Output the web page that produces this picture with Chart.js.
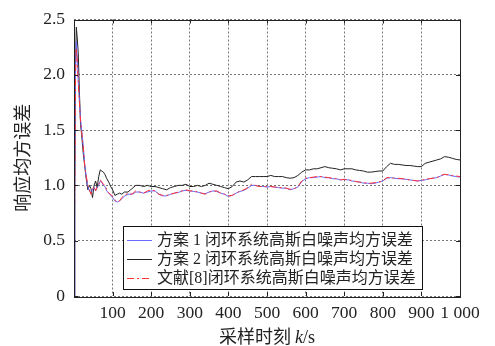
<!DOCTYPE html>
<html>
    <head>
        <title>响应均方误差</title>
        <meta charset="UTF-8">
        <script src="https://cdn.jsdelivr.net/npm/chart.js@4.4.0/dist/chart.umd.min.js"></script>
        <style>
            html, body { margin: 0; padding: 0; background: #fff; }
            #wrap { width: 495px; height: 346px; }
        </style>
    </head>
    <body>
        <div id='wrap'><canvas id='myChart' width='495' height='346'></canvas></div>
        <script>
            // sample times k (s)
            let sampleTimes = [0, 2, 4, 6, 8, 11, 14, 17, 20, 24, 28, 32, 36, 40, 44, 48, 52, 56, 60, 64, 68, 72, 76, 80, 85, 90, 95,
                100, 106, 112, 118, 124, 130,
                140, 150, 160, 170, 180, 190, 200, 210, 220, 230, 240, 250, 260, 270, 280, 290, 300,
                310, 320, 330, 340, 350, 360, 370, 380, 390, 400, 410, 420, 430, 440, 450, 460, 470, 480, 490, 500,
                510, 520, 530, 540, 550, 560, 570, 580, 590, 600, 610, 620, 630, 640, 650, 660, 670, 680, 690, 700,
                710, 720, 730, 740, 750, 760, 770, 780, 790, 800, 810, 820, 830, 840, 850, 860, 870, 880, 890, 900,
                910, 920, 930, 940, 950, 960, 970, 980, 990, 1000];

            // 方案 1
            let scheme1 = [0, 1.0, 2.05, 2.3, 2.2, 1.95, 1.76, 1.6, 1.49, 1.36, 1.18, 1.07, 0.99, 0.95, 0.93, 0.96, 0.98, 0.95, 0.98, 1.0, 1.04, 1.03, 1.0, 0.99, 0.95, 0.93, 0.91,
                0.89, 0.86, 0.85, 0.86, 0.88, 0.9,
                0.92, 0.92, 0.94, 0.94, 0.93, 0.94, 0.95, 0.95, 0.92, 0.905, 0.905, 0.92, 0.93, 0.935, 0.95, 0.955, 0.95,
                0.945, 0.94, 0.93, 0.925, 0.94, 0.95, 0.945, 0.93, 0.92, 0.9, 0.91, 0.93, 0.945, 0.955, 0.975, 1.0, 1.0, 0.99, 0.99, 0.985,
                0.99, 0.985, 0.98, 0.975, 0.975, 0.96, 0.97, 0.985, 1.035, 1.06, 1.07, 1.07, 1.075, 1.08, 1.07, 1.07, 1.06, 1.06, 1.05, 1.055,
                1.05, 1.04, 1.035, 1.03, 1.02, 1.02, 1.015, 1.02, 1.03, 1.04, 1.065, 1.07, 1.065, 1.06, 1.06, 1.055, 1.05, 1.045, 1.04, 1.045,
                1.05, 1.06, 1.065, 1.07, 1.085, 1.1, 1.095, 1.085, 1.08, 1.075];

            // 方案 2
            let scheme2 = [0, 0.9, 2.1, 2.43, 2.35, 2.2, 1.85, 1.55, 1.45, 1.29, 1.17, 1.05, 0.96, 1.0, 0.97, 0.89, 1.0, 1.04, 0.98, 1.08, 1.14, 1.13, 1.12, 1.1, 1.06, 1.03, 0.99,
                0.96, 0.91, 0.92, 0.93, 0.92, 0.94,
                0.94, 0.97, 1.0, 1.0, 0.99, 1.0, 0.99, 0.99, 0.98, 0.97, 0.96, 0.98, 0.99, 1.0, 1.0, 1.01, 0.99,
                0.99, 1.0, 0.99, 1.0, 1.02, 1.01, 1.0, 0.99, 0.98, 0.97, 0.99, 1.03, 1.04, 1.03, 1.05, 1.08, 1.08, 1.08, 1.08, 1.08,
                1.09, 1.08, 1.08, 1.08, 1.07, 1.065, 1.07, 1.09, 1.12, 1.14, 1.14, 1.15, 1.15, 1.16, 1.17, 1.16, 1.155, 1.15, 1.14, 1.15,
                1.15, 1.15, 1.14, 1.135, 1.13, 1.12, 1.12, 1.125, 1.13, 1.13, 1.17, 1.2, 1.19, 1.19, 1.185, 1.18, 1.18, 1.175, 1.17, 1.17,
                1.2, 1.21, 1.22, 1.23, 1.24, 1.26, 1.255, 1.245, 1.235, 1.23];

            // 文献[8]
            let reference8 = [0, 1.0, 2.0, 2.24, 2.15, 1.93, 1.75, 1.58, 1.48, 1.35, 1.17, 1.08, 1.0, 0.96, 0.92, 0.97, 0.99, 0.95, 0.99, 1.01, 1.05, 1.03, 1.01, 1.0, 0.96, 0.93, 0.92,
                0.9, 0.87, 0.85, 0.86, 0.89, 0.91,
                0.93, 0.92, 0.95, 0.94, 0.93, 0.95, 0.96, 0.95, 0.92, 0.91, 0.91, 0.92, 0.93, 0.94, 0.95, 0.96, 0.95,
                0.95, 0.94, 0.93, 0.92, 0.94, 0.95, 0.95, 0.93, 0.92, 0.905, 0.91, 0.93, 0.95, 0.96, 0.98, 1.01, 1.0, 0.99, 0.99, 0.99,
                0.99, 0.985, 0.98, 0.98, 0.975, 0.965, 0.97, 0.99, 1.04, 1.065, 1.07, 1.075, 1.08, 1.08, 1.075, 1.07, 1.065, 1.06, 1.05, 1.055,
                1.05, 1.045, 1.035, 1.03, 1.025, 1.02, 1.02, 1.025, 1.03, 1.04, 1.07, 1.07, 1.065, 1.065, 1.06, 1.055, 1.05, 1.045, 1.04, 1.045,
                1.055, 1.06, 1.065, 1.07, 1.09, 1.1, 1.095, 1.09, 1.085, 1.08];

            let seriesLabels = [
                '方案 1 闭环系统高斯白噪声均方误差',
                '方案 2 闭环系统高斯白噪声均方误差',
                '文献[8]闭环系统高斯白噪声均方误差'
            ];

            let xTicks = [100, 200, 300, 400, 500, 600, 700, 800, 900, 1000];
            let yTicks = [0, 0.5, 1.0, 1.5, 2.0, 2.5];

            const serif = "'Liberation Serif', 'Noto Sans CJK SC', serif";
            const cjk = "'Noto Sans CJK SC', sans-serif";

            function toPoints(values) {
                return values.map((v, i) => ({ x: sampleTimes[i], y: v }));
            }

            // frame, inward ticks, legend box and axis titles
            const decorations = {
                id: 'decorations',
                afterDraw(chart) {
                    const ctx = chart.ctx;
                    const area = chart.chartArea;
                    const xs = chart.scales.x, ys = chart.scales.y;
                    ctx.save();
                    ctx.strokeStyle = '#222';
                    ctx.lineWidth = 1;
                    ctx.beginPath();
                    xTicks.forEach(t => {
                        let px = Math.round(xs.getPixelForValue(t)) + 0.5;
                        ctx.moveTo(px, area.bottom); ctx.lineTo(px, area.bottom - 4);
                        ctx.moveTo(px, area.top); ctx.lineTo(px, area.top + 4);
                    });
                    yTicks.forEach(t => {
                        let py = Math.round(ys.getPixelForValue(t)) + 0.5;
                        ctx.moveTo(area.left, py); ctx.lineTo(area.left + 4, py);
                        ctx.moveTo(area.right, py); ctx.lineTo(area.right - 4, py);
                    });
                    ctx.stroke();
                    ctx.strokeRect(Math.round(area.left) + 0.5, Math.round(area.top) + 0.5,
                        Math.round(area.right - area.left), Math.round(area.bottom - area.top));

                    // legend
                    let bx = 123.5, by = 226.5, bw = 299, bh = 63;
                    ctx.fillStyle = '#fff';
                    ctx.fillRect(bx, by, bw, bh);
                    ctx.strokeStyle = '#111';
                    ctx.strokeRect(bx, by, bw, bh);
                    ctx.font = '16px ' + serif;
                    ctx.textBaseline = 'middle';
                    ctx.textAlign = 'left';
                    const rows = [240, 259, 278];
                    [0, 1, 2].forEach((di, r) => {
                        const ds = chart.data.datasets[di];
                        ctx.strokeStyle = ds.borderColor;
                        ctx.lineWidth = 1;
                        ctx.setLineDash(ds.borderDash || []);
                        ctx.beginPath();
                        ctx.moveTo(127, rows[r] + 0.5);
                        ctx.lineTo(152, rows[r] + 0.5);
                        ctx.stroke();
                        ctx.setLineDash([]);
                        ctx.fillStyle = '#222';
                        ctx.fillText(ds.label, 157, rows[r] + 1);
                    });

                    // x title with italic k
                    const p1 = '采样时刻 ', p2 = 'k', p3 = '/s';
                    ctx.font = '18px ' + cjk;
                    let w1 = ctx.measureText(p1).width;
                    ctx.font = 'italic 18px ' + serif;
                    let w2 = ctx.measureText(p2).width;
                    ctx.font = '18px ' + serif;
                    let w3 = ctx.measureText(p3).width;
                    let x0 = (area.left + area.right) / 2 - (w1 + w2 + w3) / 2;
                    ctx.fillStyle = '#222';
                    ctx.textBaseline = 'alphabetic';
                    ctx.font = '18px ' + cjk;
                    ctx.fillText(p1, x0, 343);
                    ctx.font = 'italic 18px ' + serif;
                    ctx.fillText(p2, x0 + w1, 343);
                    ctx.font = '18px ' + serif;
                    ctx.fillText(p3, x0 + w1 + w2, 343);

                    // y title
                    ctx.translate(22, (area.top + area.bottom) / 2);
                    ctx.rotate(-Math.PI / 2);
                    ctx.font = '18px ' + cjk;
                    ctx.textAlign = 'center';
                    ctx.textBaseline = 'middle';
                    ctx.fillText('响应均方误差', 0, 0);
                    ctx.restore();
                }
            };

            let ctx = document.getElementById('myChart').getContext('2d');
            var chart = new Chart(ctx, {
                type: 'line',
                data: {
                    datasets: [{
                        label: seriesLabels[0],
                        data: toPoints(scheme1),
                        borderColor: '#6a6aff',
                        borderWidth: 1,
                        order: 2
                    }, {
                        label: seriesLabels[1],
                        data: toPoints(scheme2),
                        borderColor: '#222222',
                        borderWidth: 1,
                        order: 3
                    }, {
                        label: seriesLabels[2],
                        data: toPoints(reference8),
                        borderColor: '#ff3333',
                        borderWidth: 1,
                        borderDash: [7, 3, 2, 3],
                        order: 1
                    }]
                },
                options: {
                    responsive: false,
                    animation: false,
                    devicePixelRatio: 1,
                    layout: { padding: { left: 0, right: 35, top: 12, bottom: 0 } },
                    elements: { point: { radius: 0 }, line: { tension: 0 } },
                    plugins: { legend: { display: false }, tooltip: { enabled: false } },
                    scales: {
                        x: {
                            type: 'linear',
                            min: 0, max: 1000,
                            afterBuildTicks: axis => { axis.ticks = [0].concat(xTicks).map(v => ({ value: v })); },
                            afterFit: axis => { axis.height = 50; },
                            grid: { color: '#777', drawTicks: false },
                            border: { display: false, dash: [2, 2] },
                            ticks: {
                                padding: 7,
                                color: '#222',
                                autoSkip: false,
                                maxRotation: 0,
                                font: { family: serif, size: 17.5 },
                                callback: v => v === 0 ? '' : (v === 1000 ? '1 000' : String(v))
                            }
                        },
                        y: {
                            min: 0, max: 2.5,
                            afterBuildTicks: axis => { axis.ticks = yTicks.map(v => ({ value: v })); },
                            afterFit: axis => { axis.width = 74; },
                            grid: { color: '#777', drawTicks: false },
                            border: { display: false, dash: [2, 2] },
                            ticks: {
                                padding: 9,
                                color: '#222',
                                autoSkip: false,
                                font: { family: serif, size: 17.5 },
                                callback: v => v === 0 ? '0' : v.toFixed(1)
                            }
                        }
                    }
                },
                plugins: [decorations]
            });
        </script>
    </body>
</html>
